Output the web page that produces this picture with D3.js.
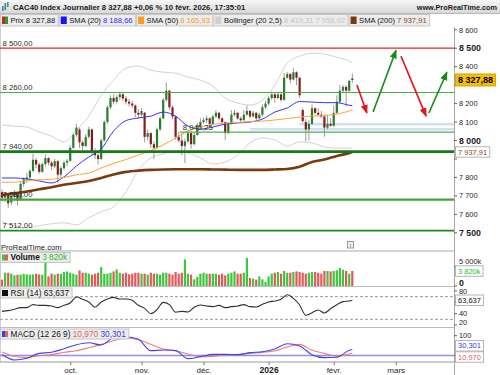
<!DOCTYPE html>
<html>
<head>
<meta charset="utf-8">
<script src="https://cdn.jsdelivr.net/npm/d3@7"></script>
<style>
  html, body { margin: 0; padding: 0; background: #fff; }
  svg { display: block; font-family: "Liberation Sans", Arial, sans-serif; }
</style>
</head>
<body>
<div id="chart"></div>
<script>
// ---------- data ----------
const firstDay = new Date(Date.UTC(2025, 8, 1));
const lastAxisDay = new Date(Date.UTC(2026, 3, 1));
const holidays = ['2025-12-25', '2025-12-26', '2026-01-01'];

// daily candles, 1 Sep 2025 -> 10 Feb 2026
const opens = [
  7720,7690,7705,7665,7695,7710,7680,7765,7790,7800,7835,7895,7870,7830,7872,7905,7880,7860,7888,7815,7850,7880,
  7890,7960,8030,8060,7990,7970,8020,8060,7940,7920,7900,8000,8100,8180,8230,8210,8235,8250,8228,8210,8200,8190,8150,
  8140,8150,8020,8040,7980,7960,8060,8120,8220,8270,8180,8130,8020,8000,7970,7995,8040,7980,8030,8080,
  8100,8110,8120,8090,8130,8150,8120,8100,8040,8090,8140,8150,8120,8110,8140,8160,8130,8150,8120,8140,8180,
  8200,8230,8250,8230,8250,8220,8340,8360,8330,8370,8340,8165,8100,8060,8090,8175,8150,8140,8130,8070,8090,
  8080,8150,8210,8270,8290,8270,8335
];
const highs = [
  7735,7720,7710,7705,7730,7715,7775,7800,7825,7845,7930,7905,7880,7880,7925,7910,7890,7900,7895,7860,7890,7900,
  7975,8040,8090,8070,8000,8035,8075,8065,7960,7935,8010,8110,8190,8245,8250,8245,8265,8260,8240,8225,8215,8195,8170,
  8175,8155,8060,8045,7995,8070,8130,8230,8315,8275,8190,8135,8045,8040,8010,8060,8050,8040,8095,8120,
  8125,8135,8125,8140,8165,8155,8125,8105,8100,8165,8165,8155,8130,8165,8190,8165,8160,8155,8150,8195,8215,
  8240,8265,8260,8265,8255,8365,8372,8365,8392,8375,8345,8175,8115,8110,8195,8180,8175,8160,8140,8140,8120,
  8190,8245,8300,8300,8300,8330,8362
];
const lows = [
  7670,7665,7635,7650,7680,7650,7675,7750,7770,7790,7830,7850,7820,7825,7860,7865,7840,7850,7770,7800,7840,7860,
  7885,7955,8020,7960,7945,7965,8010,7920,7900,7870,7895,7995,8090,8170,8195,8200,8220,8215,8195,8185,8175,8125,8120,
  8130,7990,8000,7960,7900,7955,8050,8115,8210,8165,8115,8005,7990,7920,7878,7985,7955,7975,8025,8065,
  8090,8095,8080,8085,8120,8110,8090,8003,8035,8085,8130,8110,8100,8105,8135,8120,8125,8110,8115,8130,8170,
  8190,8220,8205,8225,8210,8215,8335,8310,8325,8300,8230,8095,7995,8000,8085,8140,8135,8120,8020,8060,8075,
  8075,8145,8200,8255,8185,8260,8312
];
const closes = [
  7690,7705,7660,7695,7712,7675,7765,7790,7800,7835,7895,7870,7830,7872,7905,7880,7860,7888,7815,7850,7880,7890,
  7960,8030,8070,7990,7970,8020,8060,7940,7920,7900,8000,8100,8180,8230,8210,8235,8250,8228,8210,8200,8190,8150,8140,
  8160,8020,8040,7980,7960,8060,8120,8220,8270,8180,8130,8020,8000,7970,7995,8040,7980,8030,8080,8100,
  8110,8120,8090,8130,8150,8120,8100,8040,8090,8140,8150,8120,8110,8140,8160,8130,8150,8120,8140,8180,8200,
  8230,8250,8230,8250,8220,8340,8360,8330,8370,8340,8245,8105,8060,8090,8175,8150,8140,8130,8070,8090,8080,
  8150,8210,8270,8290,8270,8323,8327.88
];
// volume in thousands
const volumes = [
  1610,3390,3390,3140,2710,2880,2880,3140,2970,2880,2970,3140,2970,2880,6100,2460,3140,2880,3140,3140,3560,3730,
  3390,3140,2880,3990,3390,3390,3140,2880,3140,3390,4830,3140,3140,3390,3730,4240,3390,3140,3390,2970,3140,3390,3390,
  3140,3140,2880,3390,3140,3140,2880,3390,3390,3140,2880,3560,3140,3390,6780,3140,2880,1700,2290,3140,
  3390,3140,3140,3140,3140,2880,3140,2710,3140,3390,3730,3140,3140,3390,7120,2035,1870,1610,2460,1700,1020,
  2460,3140,3390,3560,3140,3820,3390,3390,3560,3730,3560,3390,3140,3390,3560,3560,3390,3140,3820,3820,3730,
  3820,3990,4580,4150,3820,3140,3820
];

// indicator lines, read every 4th session
const lineDays = [0,4,8,12,16,20,24,28,32,36,40,44,48,52,56,60,64,68,72,76,80,84,88,92,96,100,104,108,112,113];
const sma20 = [7797,7797,7792,7781,7770,7803,7862,7911,7954,8051,8108,8122,8132,8154,8132,8078,8062,8073,8089,8095,8100,8116,8154,8176,8211,8208,8205,8205,8191,8188.66];
const sma50 = [7774,7774,7783,7787,7790,7800,7814,7824,7851,7876,7897,7922,7946,7976,8014,8051,8073,8087,8095,8097,8103,8105,8111,8119,8127,8132,8135,8143,8160,8165.93];
const sma200 = [7705,7715,7724,7736,7747,7760,7770,7781,7797,7816,7830,7837,7841,7843,7844,7844,7844,7843,7842,7841,7841,7841,7843,7846,7858,7884,7897,7916,7932,7937.91];
const bollUp = [8084,8078,8073,8046,8024,7992,8057,8132,8246,8327,8392,8403,8381,8370,8365,8343,8327,8295,8230,8203,8192,8219,8300,8419,8457,8473,8468,8451,8430,8419.31];
const bollLo = [7560,7538,7527,7538,7549,7554,7543,7581,7614,7641,7722,7841,7905,7927,7943,7932,7905,7873,7884,7922,7987,8014,8003,7970,7992,7987,7965,7959,7959,7958.02];
const macdLine = [5,-22.7,-14.3,10.9,16.0,34.4,54.6,64.7,52.9,89.9,94.9,81.5,24.4,27.7,24.4,-16.0,-5.9,5.9,5.9,4.2,14.3,19.3,32.8,59.6,47.9,4.2,-10.9,-9.2,26.0,30.301];
const macdSignal = [17.6,-4.2,-10.9,-0.8,4.2,16.0,24.4,39.5,56.3,74.8,88.2,79.8,56.3,32.8,24.4,7.6,-5.9,-4.2,2.5,4.2,10.9,16.0,22.7,42.8,56.3,26.0,10.9,-4.2,7.6,10.970];

// RSI, read every 2nd session
const rsiDays = [0,2,4,6,8,10,12,14,16,18,20,22,24,26,28,30,32,34,36,38,40,42,44,46,48,50,52,54,56,58,60,62,64,66,68,70,72,74,76,78,80,82,84,86,88,90,92,94,96,98,100,102,104,106,108,110,112,113];
const rsi14 = [44.1,45.3,47.7,50.6,50.6,55.9,54.7,54.7,53.5,50.6,54.7,58.8,69.4,65.3,60.6,51.2,60.6,65.9,68.8,65.9,65.9,63.5,54.7,49.4,40.0,47.1,60.0,55.9,42.4,44.1,43.0,51.2,55.3,53.5,52.4,54.7,50.6,52.4,53.5,55.9,52.4,51.8,56.5,60.6,62.4,65.3,73.5,67.1,55.3,37.1,41.8,46.5,41.2,48.8,55.9,61.2,62.4,63.637];

// drawn levels and annotations
const levels = [8500, 8260, 8045.25, 7940, 7680, 7512];
const levelLabels = ['8 500,00', '8 260,00', '8 045,25', '7 940,00', '7 680,00', '7 512,00'];
const levelStart = [0, 0, 58, 0, 0, 0];
const zones = [8088, 8061];
const zoneStart = [96, 80];
const arrowFrom = [[114.5, 8300], [119.7, 8154], [128.7, 8457], [137.7, 8149]];
const arrowTo = [[117.7, 8149], [127.1, 8489], [136.8, 8132], [143.5, 8370]];

const priceTicks = [7500, 7600, 7700, 7800, 7900, 8000, 8100, 8200, 8300, 8400, 8500, 8600];
const volTicks = [0, 5000];
const rsiTicks = [20, 40, 60, 80];
const macdTicks = [0, 100];
const monthLabels = ['oct.', 'nov.', 'déc.', '2026', 'févr.', 'mars'];

// ---------- helpers ----------
const fr = d3.formatLocale({ decimal: ',', thousands: ' ', grouping: [3], currency: ['', ''] });
const fmt2 = fr.format(',.2f');
const fmt3 = fr.format(',.3f');
const fmtK = (v) => `${fr.format(',.0f')(v)}k`;
const isoDay = d3.utcFormat('%Y-%m-%d');

// trading sessions (weekdays minus closures), used for the month ticks
const sessions = d3.utcDay.range(firstDay, lastAxisDay)
  .filter((d) => d.getUTCDay() % 6 !== 0 && !holidays.includes(isoDay(d)));
const monthIdx = [];
sessions.forEach((d, i) => {
  if (i > 0 && d.getUTCMonth() !== sessions[i - 1].getUTCMonth()) monthIdx.push(i);
});

const candles = closes.map((c, i) => ({ i, o: opens[i], h: highs[i], l: lows[i], c, v: volumes[i] }));
const last = candles[candles.length - 1];
const lastOf = (arr) => arr[arr.length - 1];

// ---------- layout ----------
const W = 500;
const H = 375;
const axisX = 454;
const main = { top: 27, bottom: 251 };
const volP = { top: 252, bottom: 286.5 };
const rsiP = { top: 287, bottom: 327.5 };
const macdP = { top: 328, bottom: 362 };

const x = d3.scaleLinear().domain([0, 145.8]).range([2, axisX]);
const yPrice = d3.scaleLinear().domain([7500, 8500]).range([232.8, 48.2]);
const yVol = d3.scaleLinear().domain([0, 5000]).range([286, 266.4]);
const yRsi = d3.scaleLinear().domain([20, 80]).range([325, 291]);
const yMacd = d3.scaleLinear().domain([0, 100]).range([355.5, 335.7]);

const svg = d3.select('#chart')
  .append('svg')
  .attr('width', W)
  .attr('height', H);

const defs = svg.append('defs');
const clip = (id, p) => defs.append('clipPath').attr('id', id)
  .append('rect').attr('x', 0).attr('y', p.top).attr('width', axisX).attr('height', p.bottom - p.top);
clip('clipMain', main);
clip('clipVol', volP);
clip('clipRsi', rsiP);
clip('clipMacd', macdP);

const grad = defs.append('linearGradient').attr('id', 'hdr')
  .attr('x1', 0).attr('y1', 0).attr('x2', 0).attr('y2', 1);
grad.append('stop').attr('offset', '0%').attr('stop-color', '#f7f7f7');
grad.append('stop').attr('offset', '100%').attr('stop-color', '#d8d8d8');

['#e8141c', '#178a17'].forEach((col, k) => {
  defs.append('marker')
    .attr('id', `arrowHead${k}`)
    .attr('viewBox', '0 0 10 8')
    .attr('refX', 9).attr('refY', 4)
    .attr('markerWidth', 9).attr('markerHeight', 8)
    .attr('markerUnits', 'userSpaceOnUse')
    .attr('orient', 'auto')
    .append('path')
    .attr('d', 'M0,0 L10,4 L0,8 z')
    .attr('fill', col);
});

// ---------- panel frames ----------
svg.append('line')
  .attr('x1', 0.5).attr('x2', 0.5).attr('y1', main.top).attr('y2', macdP.bottom)
  .attr('stroke', '#cfcfcf');
[[main.bottom, 2, '#d4d4d4'], [volP.bottom, 1, '#bdbdbd'], [rsiP.bottom, 1, '#bdbdbd'], [macdP.bottom, 1, '#9a9a9a']]
  .forEach(([yy, sw, col]) => {
    svg.append('line')
      .attr('x1', 0).attr('x2', axisX).attr('y1', yy).attr('y2', yy)
      .attr('stroke', col).attr('stroke-width', sw);
  });
svg.append('line')
  .attr('x1', axisX + 0.5).attr('x2', axisX + 0.5).attr('y1', main.top).attr('y2', H)
  .attr('stroke', '#a8a8a8');

// ---------- main price panel ----------
const mainG = svg.append('g').attr('clip-path', 'url(#clipMain)');

const priceLine = (vals) => d3.line()
  .x((d, k) => x(lineDays[k]))
  .y((d) => yPrice(d))
  .curve(d3.curveMonotoneX)(vals);

// bollinger bands
[bollUp, bollLo].forEach((band) => {
  mainG.append('path')
    .attr('d', priceLine(band))
    .attr('fill', 'none')
    .attr('stroke', '#d2d2d2')
    .attr('stroke-width', 1);
});

// light blue zones
zones.forEach((z, k) => {
  mainG.append('line')
    .attr('x1', x(zoneStart[k])).attr('x2', axisX)
    .attr('y1', yPrice(z)).attr('y2', yPrice(z))
    .attr('stroke', '#d3def6').attr('stroke-width', 2.5);
});

// candles
const candleG = mainG.append('g');
candleG.selectAll('.wick')
  .data(candles)
  .enter()
  .append('line')
  .attr('class', 'wick')
  .attr('x1', (d) => x(d.i)).attr('x2', (d) => x(d.i))
  .attr('y1', (d) => yPrice(d.h)).attr('y2', (d) => yPrice(d.l))
  .attr('stroke', '#9a9a9a')
  .attr('stroke-width', 1);
candleG.selectAll('.body')
  .data(candles)
  .enter()
  .append('rect')
  .attr('class', 'body')
  .attr('x', (d) => x(d.i) - 1.1)
  .attr('width', 2.2)
  .attr('y', (d) => yPrice(Math.max(d.o, d.c)))
  .attr('height', (d) => Math.max(1, Math.abs(yPrice(d.o) - yPrice(d.c))))
  .attr('fill', (d) => (d.c >= d.o ? '#2a7d2a' : '#861c1c'));

// moving averages
[[sma20, '#3434f4', 1], [sma50, '#ffa235', 1], [sma200, '#7a3a0c', 2.6]].forEach(([vals, col, sw]) => {
  mainG.append('path')
    .attr('d', priceLine(vals))
    .attr('fill', 'none')
    .attr('stroke', col)
    .attr('stroke-width', sw);
});

// support / resistance levels
const levelStyle = [
  { col: '#e8262a', sw: 1.2 },
  { col: '#46b046', sw: 1.2 },
  { col: '#4cb44c', sw: 1.2 },
  { col: '#167a16', sw: 2.6 },
  { col: '#3fa63f', sw: 2.2 },
  { col: '#1f8a1f', sw: 1.6 },
];
levels.forEach((lv, k) => {
  mainG.append('line')
    .attr('x1', x(levelStart[k]) - 2).attr('x2', axisX)
    .attr('y1', yPrice(lv)).attr('y2', yPrice(lv))
    .attr('stroke', levelStyle[k].col)
    .attr('stroke-width', levelStyle[k].sw);
  mainG.append('text')
    .attr('x', levelStart[k] === 0 ? 2.5 : x(levelStart[k]) + 1)
    .attr('y', yPrice(lv) - 2.3)
    .attr('fill', '#2a2a2a')
    .style('font-size', '7.7px')
    .text(levelLabels[k]);
});

// trade arrows
arrowFrom.forEach((a, k) => {
  const b = arrowTo[k];
  const up = b[1] > a[1];
  mainG.append('line')
    .attr('x1', x(a[0])).attr('y1', yPrice(a[1]))
    .attr('x2', x(b[0])).attr('y2', yPrice(b[1]))
    .attr('stroke', up ? '#178a17' : '#e8141c')
    .attr('stroke-width', 1.6)
    .attr('marker-end', `url(#arrowHead${up ? 1 : 0})`);
});

// ---------- volume panel ----------
const volG = svg.append('g').attr('clip-path', 'url(#clipVol)');
volG.selectAll('.vbar')
  .data(candles)
  .enter()
  .append('rect')
  .attr('class', 'vbar')
  .attr('x', (d) => x(d.i) - 1.1)
  .attr('width', 2.2)
  .attr('y', (d) => yVol(d.v))
  .attr('height', (d) => yVol(0) - yVol(d.v))
  .attr('fill', (d) => (d.c >= d.o ? '#3ec63e' : '#e35a5a'));

// ---------- RSI panel ----------
const rsiG = svg.append('g').attr('clip-path', 'url(#clipRsi)');
[70, 30].forEach((lv) => {
  rsiG.append('line')
    .attr('x1', 0).attr('x2', axisX)
    .attr('y1', yRsi(lv)).attr('y2', yRsi(lv))
    .attr('stroke', '#9a9a9a')
    .attr('stroke-dasharray', '3,2');
});
rsiG.append('path')
  .attr('d', d3.line()
    .x((d, k) => x(rsiDays[k]))
    .y((d) => yRsi(d))
    .curve(d3.curveMonotoneX)(rsi14))
  .attr('fill', 'none')
  .attr('stroke', '#303030')
  .attr('stroke-width', 1.1);

// ---------- MACD panel ----------
const macdG = svg.append('g').attr('clip-path', 'url(#clipMacd)');
macdG.append('line')
  .attr('x1', 0).attr('x2', axisX)
  .attr('y1', yMacd(0)).attr('y2', yMacd(0))
  .attr('stroke', '#9090ee')
  .attr('stroke-width', 1.6);
[[macdSignal, '#f07a7a'], [macdLine, '#4242f2']].forEach(([vals, col]) => {
  macdG.append('path')
    .attr('d', d3.line()
      .x((d, k) => x(lineDays[k]))
      .y((d) => yMacd(d))
      .curve(d3.curveMonotoneX)(vals))
    .attr('fill', 'none')
    .attr('stroke', col)
    .attr('stroke-width', 1.1);
});

// ---------- value tags on the axis ----------
const tagSpots = [];
const tag = (yy, txt, o) => {
  const h = o.h || 10.5;
  const g = svg.append('g');
  const t = g.append('text')
    .attr('x', axisX + 4)
    .attr('y', yy)
    .attr('dy', '0.35em')
    .attr('fill', o.color)
    .style('font-size', o.size || '7.5px')
    .style('font-weight', o.bold ? 'bold' : 'normal')
    .text(txt);
  const w = t.node().getComputedTextLength();
  g.insert('rect', 'text')
    .attr('x', axisX + 1.5)
    .attr('y', yy - h / 2)
    .attr('width', w + 5)
    .attr('height', h)
    .attr('fill', o.fill || '#fff')
    .attr('stroke', o.stroke || '#b4b4b4');
  tagSpots.push([yy - h / 2, yy + h / 2]);
};
tag(yPrice(last.c), fmt2(last.c), { color: '#000', fill: '#f6be00', stroke: '#d8a400', bold: true, size: '9px', h: 12 });
tag(yPrice(lastOf(sma200)), fmt2(lastOf(sma200)), { color: '#8a4a1a' });
tag(yVol(last.v), fmtK(last.v), { color: '#2db82d' });
tag(yRsi(lastOf(rsi14)), fmt3(lastOf(rsi14)), { color: '#111' });
// the two MACD tags sit too close: push them apart
const mY = yMacd(lastOf(macdLine));
const sY = yMacd(lastOf(macdSignal));
const mid = (mY + sY) / 2;
tag(Math.min(mY, mid - 5.6), fmt3(lastOf(macdLine)), { color: '#3a3af0' });
tag(Math.max(sY, mid + 5.6), fmt3(lastOf(macdSignal)), { color: '#e86060' });

// ---------- right axis ----------
const axisG = svg.insert('g', 'g');
const tickLabel = (yy, txt, bold, lo, hi) => {
  axisG.append('line')
    .attr('x1', axisX).attr('x2', axisX + 3).attr('y1', yy).attr('y2', yy)
    .attr('stroke', '#666');
  // labels sit inside their panel and hide under a value tag, as on the screen
  const ly = Math.max(lo, Math.min(hi, yy));
  const half = bold ? 3.8 : 3.1;
  const hidden = tagSpots.some(([a, b]) => ly + half > a && ly - half < b);
  if (hidden) return;
  axisG.append('text')
    .attr('x', axisX + 5)
    .attr('y', ly)
    .attr('dy', '0.35em')
    .attr('fill', '#1e1e1e')
    .style('font-size', bold ? '8.8px' : '7.4px')
    .style('font-weight', bold ? 'bold' : 'normal')
    .text(txt);
};
priceTicks.forEach((t) => tickLabel(yPrice(t), fr.format(',')(t), t % 500 === 0, 30, 248));
// the 5 000k label peeks out just above the volume tag
volTicks.forEach((t) => tickLabel(yVol(t), t === 0 ? '0' : fmtK(t), t === 0, 258, t === 0 ? 282.5 : 261.5));
rsiTicks.forEach((t) => tickLabel(yRsi(t), String(t), false, 291, 322.5));
macdTicks.forEach((t) => tickLabel(yMacd(t), String(t), false, 333, 359));

// ---------- date axis ----------
const xAxis = d3.axisBottom(x)
  .tickValues(monthIdx.slice(0, monthLabels.length))
  .tickSize(3)
  .tickPadding(2)
  .tickFormat((d, i) => monthLabels[i]);
const xg = svg.append('g')
  .attr('transform', `translate(0,${macdP.bottom})`)
  .call(xAxis);
xg.select('.domain').remove();
xg.selectAll('.tick line').attr('stroke', '#777');
xg.selectAll('.tick text')
  .attr('fill', '#1e1e1e')
  .style('font-family', '"Liberation Sans", Arial, sans-serif')
  .style('font-size', (d, i) => (monthLabels[i] === '2026' ? '8.6px' : '8px'))
  .style('font-weight', (d, i) => (monthLabels[i] === '2026' ? 'bold' : 'normal'));

// ---------- header ----------
svg.append('rect')
  .attr('x', 0).attr('y', 0).attr('width', W).attr('height', 13)
  .attr('fill', 'url(#hdr)');
svg.append('line')
  .attr('x1', 0).attr('x2', W).attr('y1', 13.5).attr('y2', 13.5)
  .attr('stroke', '#b8b8b8');
// small chart icon
[[2, 6, 5, '#3d7fd0'], [4.5, 3, 7, '#2f9a3a'], [7, 2, 5, '#3d7fd0']].forEach(([ix, iy, ih, col]) => {
  svg.append('rect').attr('x', ix).attr('y', iy).attr('width', 1.6).attr('height', ih).attr('fill', col);
});
svg.append('text')
  .attr('x', 13).attr('y', 9.6)
  .attr('fill', '#1a1a1a')
  .style('font-size', '7.7px')
  .style('font-weight', 'bold')
  .text(`CAC40 Index Journalier ${fmt2(last.c)} +0,06 % 10 févr. 2026, 17:35:01`);
svg.append('text')
  .attr('x', 497).attr('y', 9.6)
  .attr('text-anchor', 'end')
  .attr('fill', '#1a1a1a')
  .style('font-size', '7.3px')
  .style('font-weight', 'bold')
  .text('www.ProRealTime.com');

// legend boxes
const legendRow = (x0, y0, h, size, items) => {
  let cx = x0;
  items.forEach((it) => {
    const g = svg.append('g');
    const box = g.append('rect')
      .attr('x', cx).attr('y', y0).attr('height', h)
      .attr('fill', '#ececec').attr('stroke', '#c6c6c6');
    if (it.icon.length === 2) {
      g.append('rect').attr('x', cx + 1.5).attr('y', y0 + 2).attr('width', 3).attr('height', h - 4).attr('fill', it.icon[0]);
      g.append('rect').attr('x', cx + 4.5).attr('y', y0 + 2).attr('width', 3).attr('height', h - 4).attr('fill', it.icon[1]);
    } else {
      g.append('rect').attr('x', cx + 1.5).attr('y', y0 + 2).attr('width', 6).attr('height', h - 4).attr('fill', it.icon[0]);
    }
    const t = g.append('text')
      .attr('x', cx + 10)
      .attr('y', y0 + h / 2)
      .attr('dy', '0.35em')
      .style('font-size', size);
    it.parts.forEach(([txt, col, bold]) => {
      t.append('tspan').attr('fill', col).style('font-weight', bold ? 'bold' : 'normal').text(txt);
    });
    const w = 10 + t.node().getComputedTextLength() + 3;
    box.attr('width', w);
    cx += w + 1;
  });
};
legendRow(0.5, 14.5, 11.5, '7.6px', [
  { icon: ['#d42020', '#21a021'], parts: [[`Prix ${fmt2(last.c)}`, '#111']] },
  { icon: ['#1212ff'], parts: [['SMA (20) ', '#111'], [fmt2(lastOf(sma20)), '#2b2bff']] },
  { icon: ['#ff9c1f'], parts: [['SMA (50) ', '#111'], [fmt2(lastOf(sma50)), '#ff9a1a']] },
  { icon: ['#d0d0d0'], parts: [['Bollinger (20 2,5) ', '#111'], [`${fmt2(lastOf(bollUp))}  ${fmt2(lastOf(bollLo))}`, '#c4c4c4']] },
  { icon: ['#7a3a0c'], parts: [['SMA (200) ', '#111'], [fmt2(lastOf(sma200)), '#8a4a1a']] },
]);
legendRow(0.5, 252.5, 10, '8.3px', [
  { icon: ['#3ec63e', '#e35a5a'], parts: [['Volume ', '#111', true], [fmtK(last.v), '#2db82d']] },
]);
legendRow(0.5, 288, 10, '8.3px', [
  { icon: ['#111'], parts: [[`RSI (14) ${fmt3(lastOf(rsi14))}`, '#111']] },
]);
legendRow(0.5, 329, 10, '8.3px', [
  { icon: ['#3a3af0', '#e86060'], parts: [['MACD (12 26 9) ', '#111'], [fmt3(lastOf(macdSignal)), '#e86060'], [' ', '#111'], [fmt3(lastOf(macdLine)), '#3a3af0']] },
]);

// watermark and info box
svg.append('text')
  .attr('x', 1).attr('y', 249.5)
  .attr('fill', '#222')
  .style('font-size', '7.6px')
  .text('ProRealTime.com');
svg.append('rect')
  .attr('x', 347.5).attr('y', 241.5).attr('width', 6).attr('height', 6.5)
  .attr('fill', '#f2f2f2').attr('stroke', '#999');
svg.append('text')
  .attr('x', 350.5).attr('y', 247)
  .attr('text-anchor', 'middle')
  .attr('fill', '#555')
  .style('font-size', '6px')
  .text('i');
</script>
</body>
</html>
